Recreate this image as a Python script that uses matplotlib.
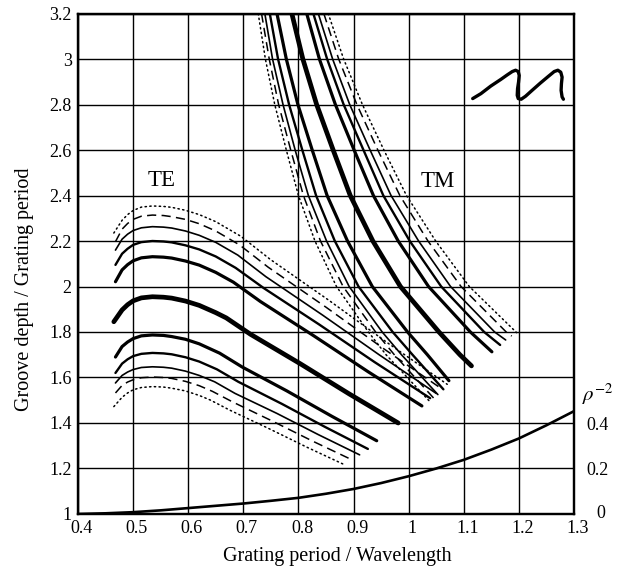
import matplotlib
matplotlib.use("Agg")
import matplotlib.pyplot as plt
import matplotlib.transforms as mtransforms

plt.rcParams['font.family'] = ['Liberation Serif', 'DejaVu Serif']
plt.rcParams['mathtext.fontset'] = 'stix'

# ---------------- data ----------------
# TE family (top to bottom)
te_x = [
    [0.465, 0.48, 0.49, 0.50, 0.515, 0.535, 0.555, 0.57, 0.595, 0.62, 0.65, 0.696, 0.749, 0.856, 0.963, 1.070],
    [0.468, 0.48, 0.49, 0.50, 0.515, 0.535, 0.555, 0.57, 0.595, 0.62, 0.65, 0.693, 0.745, 0.850, 0.955, 1.060],
    [0.468, 0.48, 0.49, 0.50, 0.515, 0.535, 0.555, 0.57, 0.595, 0.62, 0.65, 0.690, 0.741, 0.844, 0.947, 1.050],
    [0.468, 0.48, 0.49, 0.50, 0.515, 0.535, 0.555, 0.57, 0.595, 0.62, 0.65, 0.686, 0.737, 0.837, 0.938, 1.039],
    [0.468, 0.48, 0.49, 0.50, 0.515, 0.535, 0.555, 0.57, 0.595, 0.62, 0.65, 0.682, 0.731, 0.828, 0.926, 1.024],
    [0.465, 0.48, 0.49, 0.50, 0.515, 0.535, 0.555, 0.57, 0.595, 0.62, 0.65, 0.669, 0.713, 0.803, 0.892, 0.981],
    [0.468, 0.48, 0.49, 0.50, 0.515, 0.535, 0.555, 0.57, 0.595, 0.62, 0.657, 0.698, 0.779, 0.861, 0.942],
    [0.468, 0.48, 0.49, 0.50, 0.515, 0.535, 0.555, 0.57, 0.595, 0.62, 0.652, 0.691, 0.770, 0.848, 0.926],
    [0.468, 0.48, 0.49, 0.50, 0.515, 0.535, 0.555, 0.57, 0.595, 0.62, 0.648, 0.685, 0.761, 0.836, 0.911],
    [0.468, 0.48, 0.49, 0.50, 0.515, 0.535, 0.555, 0.57, 0.595, 0.62, 0.644, 0.681, 0.753, 0.826, 0.899],
    [0.465, 0.48, 0.49, 0.50, 0.515, 0.535, 0.555, 0.57, 0.595, 0.62, 0.640, 0.675, 0.745, 0.815, 0.885],
]
te_y = [
    [2.235, 2.291, 2.316, 2.334, 2.349, 2.354, 2.352, 2.348, 2.335, 2.316, 2.285, 2.220, 2.119, 1.938, 1.750, 1.570],
    [2.197, 2.252, 2.277, 2.295, 2.309, 2.314, 2.312, 2.307, 2.295, 2.276, 2.244, 2.183, 2.085, 1.909, 1.726, 1.550],
    [2.160, 2.208, 2.230, 2.246, 2.258, 2.263, 2.261, 2.257, 2.244, 2.225, 2.194, 2.138, 2.043, 1.874, 1.699, 1.530],
    [2.095, 2.144, 2.166, 2.183, 2.195, 2.200, 2.198, 2.194, 2.181, 2.163, 2.132, 2.082, 1.993, 1.834, 1.668, 1.509],
    [2.021, 2.073, 2.096, 2.113, 2.126, 2.131, 2.129, 2.125, 2.112, 2.094, 2.062, 2.019, 1.934, 1.783, 1.626, 1.475],
    [1.845, 1.897, 1.920, 1.937, 1.950, 1.955, 1.953, 1.949, 1.936, 1.917, 1.885, 1.862, 1.790, 1.661, 1.528, 1.400],
    [1.690, 1.736, 1.756, 1.771, 1.783, 1.787, 1.785, 1.780, 1.768, 1.748, 1.707, 1.646, 1.541, 1.429, 1.322],
    [1.620, 1.661, 1.680, 1.694, 1.704, 1.708, 1.706, 1.702, 1.689, 1.670, 1.636, 1.581, 1.484, 1.383, 1.286],
    [1.576, 1.609, 1.624, 1.635, 1.644, 1.647, 1.645, 1.641, 1.628, 1.609, 1.581, 1.530, 1.442, 1.349, 1.260],
    [1.532, 1.565, 1.580, 1.590, 1.599, 1.602, 1.600, 1.596, 1.583, 1.564, 1.539, 1.492, 1.408, 1.320, 1.236],
    [1.472, 1.513, 1.532, 1.546, 1.556, 1.560, 1.558, 1.553, 1.541, 1.521, 1.501, 1.457, 1.377, 1.294, 1.215],
]

# TM family (left to right)
tm_x = [
    [0.727, 0.740, 0.757, 0.778, 0.800, 0.830, 0.869, 0.927, 0.959, 1.040],
    [0.733, 0.747, 0.764, 0.786, 0.809, 0.840, 0.881, 0.940, 0.974, 1.047],
    [0.739, 0.753, 0.772, 0.794, 0.818, 0.851, 0.892, 0.952, 0.987, 1.053],
    [0.748, 0.763, 0.783, 0.807, 0.832, 0.866, 0.909, 0.971, 1.007, 1.063],
    [0.761, 0.778, 0.799, 0.825, 0.852, 0.889, 0.934, 0.998, 1.034, 1.073],
    [0.788, 0.808, 0.833, 0.863, 0.894, 0.935, 0.985, 1.055, 1.093, 1.114],
    [0.815, 0.838, 0.867, 0.901, 0.936, 0.981, 1.036, 1.112, 1.151],
    [0.827, 0.852, 0.882, 0.918, 0.954, 1.002, 1.059, 1.137, 1.166],
    [0.836, 0.862, 0.893, 0.930, 0.968, 1.018, 1.076, 1.156, 1.176],
    [0.846, 0.873, 0.906, 0.944, 0.984, 1.035, 1.095, 1.177, 1.187],
    [0.854, 0.882, 0.916, 0.955, 0.996, 1.049, 1.110, 1.196],
]
tm_y = [
    [3.2, 3.0, 2.8, 2.6, 2.4, 2.2, 2.0, 1.8, 1.7, 1.490],
    [3.2, 3.0, 2.8, 2.6, 2.4, 2.2, 2.0, 1.8, 1.7, 1.505],
    [3.2, 3.0, 2.8, 2.6, 2.4, 2.2, 2.0, 1.8, 1.7, 1.525],
    [3.2, 3.0, 2.8, 2.6, 2.4, 2.2, 2.0, 1.8, 1.7, 1.548],
    [3.2, 3.0, 2.8, 2.6, 2.4, 2.2, 2.0, 1.8, 1.7, 1.586],
    [3.2, 3.0, 2.8, 2.6, 2.4, 2.2, 2.0, 1.8, 1.7, 1.651],
    [3.2, 3.0, 2.8, 2.6, 2.4, 2.2, 2.0, 1.8, 1.713],
    [3.2, 3.0, 2.8, 2.6, 2.4, 2.2, 2.0, 1.8, 1.743],
    [3.2, 3.0, 2.8, 2.6, 2.4, 2.2, 2.0, 1.8, 1.765],
    [3.2, 3.0, 2.8, 2.6, 2.4, 2.2, 2.0, 1.8, 1.782],
    [3.2, 3.0, 2.8, 2.6, 2.4, 2.2, 2.0, 1.797],
]

# rho^-2 (right axis)
rho_x = [0.40, 0.45, 0.50, 0.55, 0.60, 0.65, 0.70, 0.75, 0.80, 0.85, 0.90,
         0.95, 1.00, 1.05, 1.10, 1.15, 1.20, 1.25, 1.30]
rho_v = [0.000, 0.003, 0.008, 0.016, 0.026, 0.036, 0.046, 0.058, 0.071, 0.089,
         0.110, 0.136, 0.166, 0.200, 0.238, 0.283, 0.332, 0.390, 0.452]

# groove-profile sketch
sq_x = [1.1162, 1.1311, 1.1491, 1.1671, 1.1790, 1.1880, 1.1940, 1.1988, 1.2006,
        1.1994, 1.1976, 1.1970, 1.1988, 1.2042, 1.2120, 1.2240, 1.2389, 1.2539,
        1.2641, 1.2707, 1.2760, 1.2784, 1.2772, 1.2766, 1.2784, 1.2808]
sq_y = [2.8261, 2.8478, 2.8812, 2.9101, 2.9304, 2.9449, 2.9507, 2.9449, 2.9275,
        2.8986, 2.8696, 2.8406, 2.8261, 2.8232, 2.8362, 2.8623, 2.8942, 2.9246,
        2.9449, 2.9507, 2.9420, 2.9203, 2.8913, 2.8623, 2.8333, 2.8232]

x_ticks = [0.4, 0.5, 0.6, 0.7, 0.8, 0.9, 1.0, 1.1, 1.2, 1.3]
x_tick_labels = ['0.4', '0.5', '0.6', '0.7', '0.8', '0.9', '1', '1.1', '1.2', '1.3']
y_ticks = [1.0, 1.2, 1.4, 1.6, 1.8, 2.0, 2.2, 2.4, 2.6, 2.8, 3.0, 3.2]
y_tick_labels = ['1', '1.2', '1.4', '1.6', '1.8', '2', '2.2', '2.4', '2.6', '2.8', '3', '3.2']
r_ticks = [0.2, 0.4]
r_tick_labels = ['0.2', '0.4']

# ---------------- styles ----------------
dotted = dict(lw=1.1, ls=(0, (0.9, 2.2)), dash_capstyle='round')
dashed = dict(lw=1.1, ls=(0, (6, 3.5)))
thin = dict(lw=1.2, ls='-')
medium = dict(lw=1.7, ls='-')
medthick = dict(lw=2.3, ls='-')
thick = dict(lw=3.4, ls='-')
family_styles = [dotted, dashed, thin, medium, medthick, thick,
                 medthick, medium, thin, dashed, dotted]

fig = plt.figure(figsize=(6.19, 5.75), dpi=100)
ax = fig.add_axes([0.126, 0.1061, 0.8013, 0.8704])
ax.set_xlim(0.4, 1.3)
ax.set_ylim(1.0, 3.2)

ax.set_xticks(x_ticks)
ax.set_xticklabels(x_tick_labels)
ax.set_yticks(y_ticks)
ax.set_yticklabels(y_tick_labels)
ax.tick_params(length=0, labelsize=13, pad=4.5)
for lab in ax.get_xticklabels():
    lab.set_transform(lab.get_transform() + mtransforms.ScaledTranslation(3.5 / 100, 0, fig.dpi_scale_trans))
ax.grid(True, color='black', lw=1.0)
ax.set_axisbelow(True)
for s in ax.spines.values():
    s.set_linewidth(1.6)

for xs, ys, st in zip(te_x, te_y, family_styles):
    ax.plot(xs, ys, color='black', solid_capstyle='round', solid_joinstyle='round', **st)
for xs, ys, st in zip(tm_x, tm_y, family_styles):
    ax.plot(xs, ys, color='black', solid_capstyle='round', solid_joinstyle='round', **st)

ax.plot(sq_x, sq_y, color='black', lw=2.4, solid_capstyle='round',
        solid_joinstyle='round')

ax.text(0.552, 2.465, 'TE', fontsize=16.5, ha='center', va='center')
ax.text(1.053, 2.46, 'TM', fontsize=16.5, ha='center', va='center')

ax2 = ax.twinx()
ax2.set_ylim(0, 2.2)
ax2.plot(rho_x, rho_v, color='black', lw=1.9)
ax2.set_yticks(r_ticks)
ax2.set_yticklabels(r_tick_labels)
ax2.tick_params(length=0, labelsize=13, pad=9)
for lab in ax2.get_yticklabels():
    lab.set_va('top')
    lab.set_transform(lab.get_transform() + mtransforms.ScaledTranslation(0, 6 / 100, fig.dpi_scale_trans))
for s in ax2.spines.values():
    s.set_linewidth(1.6)
ax2.text(1.046, 0.0, '0', transform=mtransforms.blended_transform_factory(ax2.transAxes, ax2.transData),
         fontsize=13, ha='left', va='center', clip_on=False)
ax2.text(1.048, 0.527, r'$\rho^{-2}$', transform=mtransforms.blended_transform_factory(ax2.transAxes, ax2.transData),
         fontsize=15, ha='center', va='center', clip_on=False)

fig.text(337.6 / 619, 1 - 557 / 575, 'Grating period / Wavelength', fontsize=14.5,
         ha='center', va='center')
fig.text(25 / 619, 1 - 289 / 575, 'Groove depth / Grating period', fontsize=14.5,
         ha='center', va='center', rotation=90)

fig.savefig('out.png', dpi=100)
